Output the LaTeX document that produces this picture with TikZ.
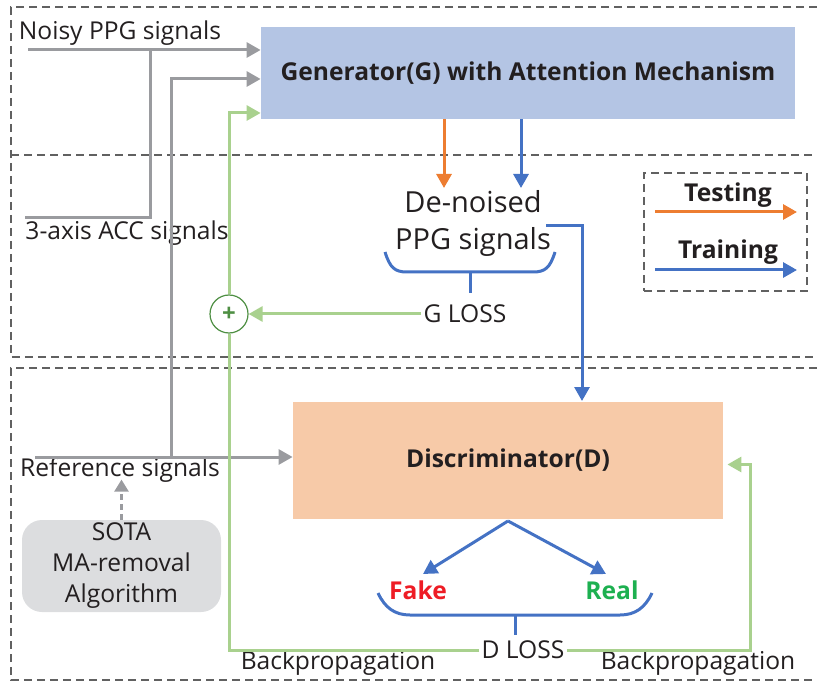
\documentclass[tikz,border=0pt]{standalone}
\usepackage{fontspec}
\setmainfont{Open Sans}
\usetikzlibrary{arrows.meta,calc}
\definecolor{genblue}{HTML}{B4C5E4}
\definecolor{disorange}{HTML}{F7CAA8}
\definecolor{sotagray}{HTML}{DCDDDF}
\definecolor{linegray}{HTML}{9A9B9F}
\definecolor{trainblue}{HTML}{4472C4}
\definecolor{testorange}{HTML}{ED7D31}
\definecolor{bpgreen}{HTML}{A9D18E}
\definecolor{plusgreen}{HTML}{4E8F43}
\definecolor{fakered}{HTML}{EE1C25}
\definecolor{realgreen}{HTML}{1DB050}
\definecolor{txt}{HTML}{231F20}
\begin{document}
		\begin{tikzpicture}[x=0.5pt, y=-0.5pt, font=\fontsize{12.3}{14}\selectfont, text=txt,
			frame/.style = {draw=black!62, line width=0.6pt, dash pattern=on 4pt off 2.5pt},
			block/.style = {inner sep=0pt, font=\fontsize{12.3}{14}\selectfont\bfseries},
			lbl/.style = {inner sep=1pt},
			bold/.style = {lbl, font=\fontsize{12.3}{14}\selectfont\bfseries},
			gline/.style = {draw=linegray, line width=1.5pt},
			bline/.style = {draw=trainblue, line width=1.5pt},
			oline/.style = {draw=testorange, line width=1.5pt},
			grn/.style = {draw=bpgreen, line width=1.5pt},
			tip/.style = {-{Triangle[length=7pt, width=7.5pt]}}]
			\useasboundingbox (0,0) rectangle (817,683);
			\draw[frame] (817,7) -- (11,7) -- (11,357) -- (817,357);
			\draw[frame] (11,155) -- (817,155);
			\draw[frame] (817,368) -- (11,368) -- (11,680) -- (817,680);
			
			\node[block, fill=genblue, minimum width=267pt, minimum height=46pt] (gen) at (528,73) {Generator(G) with Attention Mechanism};
			\node[block, fill=disorange, minimum width=215pt, minimum height=58.5pt] (dis) at (508,460.5) {Discriminator(D)};
			\node[fill=sotagray, rounded corners=10pt, align=center, minimum width=99.5pt, minimum height=46pt, inner sep=0pt, font=\fontsize{12.3}{15.5}\selectfont] (sota) at (121.5,566) {SOTA\\MA-removal\\Algorithm};
			
			\node[lbl] (noisy) at (120,33) {Noisy PPG signals};
			\node[lbl] (acc) at (127,233) {3-axis ACC signals};
			\node[lbl] (ref) at (120,470) {Reference signals};
			\node[lbl, align=center, font=\fontsize{14.5}{18.5}\selectfont] (den) at (473,223) {De-noised\\PPG signals};
			\node[lbl] (gl) at (465,314) {G LOSS};
			\node[lbl] (dl) at (523,650) {D LOSS};
			\node[bold, text=fakered] (fake) at (418,590) {Fake};
			\node[bold, text=realgreen] (real) at (612,590) {Real};
			\node[lbl] (bp1) at (338,663) {Backpropagation};
			\node[lbl] (bp2) at (698,663) {Backpropagation};
			\node[circle, draw=plusgreen, line width=0.6pt, fill=white, minimum size=19pt, inner sep=0pt, text=plusgreen, font=\fontsize{12}{14}\selectfont\bfseries] (plus) at (229,314) {+};
			
			\node[frame, minimum width=81.5pt, minimum height=59pt] (leg) at (725.5,232) {};
			\node[bold] (test) at (728,195) {Testing};
			\node[bold] (train) at (728,252) {Training};
			\coordinate (t0) at (655,212); \coordinate (t1) at (797,212);
			\coordinate (r0) at (655,270); \coordinate (r1) at (797,270);
			\draw[oline, tip] (t0) -- (t1);
			\draw[bline, tip] (r0) -- (r1);
			
			\coordinate (n0) at (28,50); \coordinate (j1) at (150,50);
			\coordinate (a0) at (25,218);
			\coordinate (s0) at (35,457); \coordinate (j2) at (171,457);
			\draw[gline, tip] (n0) -- (n0 -| gen.west);
			\draw[gline] (a0) -| (j1);
			\draw[gline, tip] (s0) -- (s0 -| dis.west);
			\draw[gline, tip] (j2) |- ($(gen.west)+(0,6)$);
			\draw[gline, dash pattern=on 3pt off 2pt, line width=1.2pt, -{Triangle[length=6pt, width=7pt]}] (sota.north) -- ($(sota.north)+(0,-40)$);
			
			\coordinate (ot) at (444,188); \coordinate (bt) at (521,188);
			\draw[oline, tip] (ot |- gen.south) -- (ot);
			\draw[bline, tip] (bt |- gen.south) -- (bt);
			\coordinate (dt) at (546,226); \coordinate (dn) at (582,401);
			\draw[bline, tip] (dt) -| (dn);
			\draw[bline] (385,252) .. controls (390,268) and (395,272) .. (407,272) -- (533,272) .. controls (545,272) and (550,268) .. (555,252);
			\draw[bline] (470,272) -- (470,293);
			
			\coordinate (ds) at (508,521);
			\coordinate (ft) at (423,574); \coordinate (rt) at (606,574);
			\draw[bline, tip] (ds) -- (ft);
			\draw[bline, tip] (ds) -- (rt);
			\draw[bline] (378,593) .. controls (385,608) and (395,615) .. (410,615) -- (620,615) .. controls (635,615) and (645,608) .. (652,593);
			\draw[bline] (515,615) -- (515,635);
			
			\draw[grn, tip] (gl.west) -- (plus.east);
			\draw[grn] (dl.west) -| (plus.south);
			\draw[grn, tip] (plus.north) |- ($(gen.west)+(0,40)$);
			\draw[grn, tip] (dl.east) -| ($(dis.east)+(27,4)$) -- ($(dis.east)+(4,4)$);
		\end{tikzpicture}
\end{document}
